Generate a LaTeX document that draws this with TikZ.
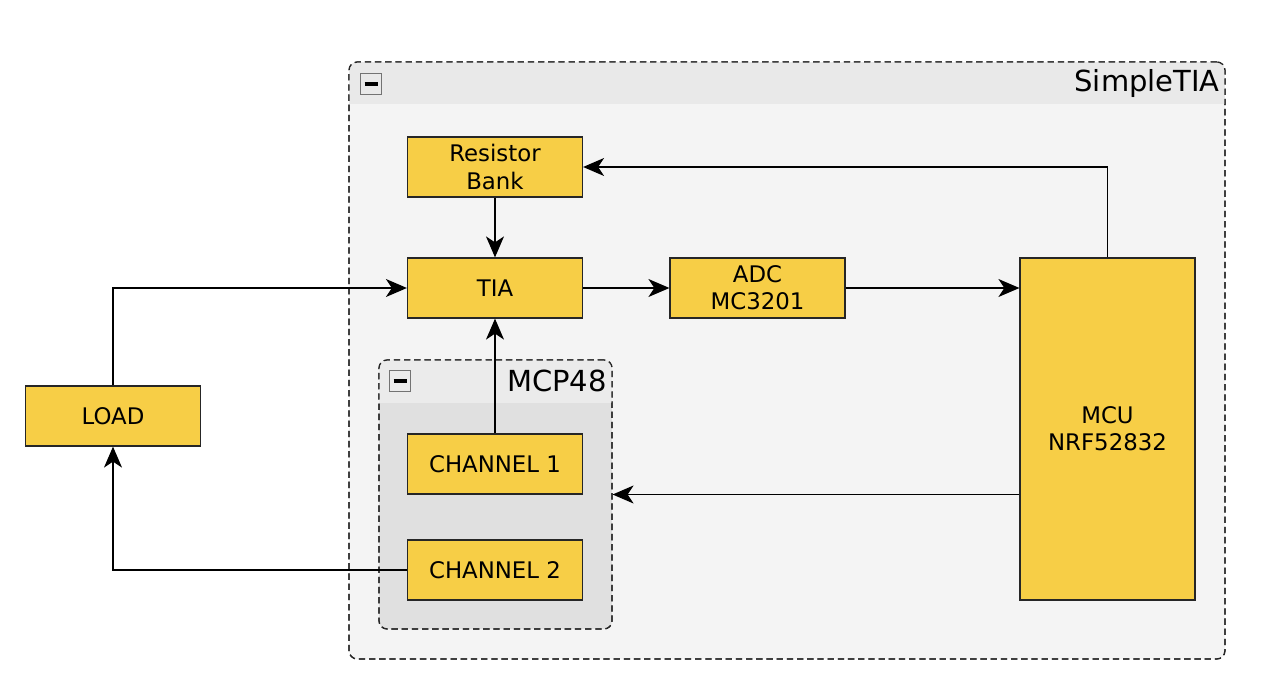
\documentclass[tikz,border=0pt]{standalone}
\usepackage{fontspec}
\setmainfont{DejaVu Sans}
\usepackage{tikz}
\usetikzlibrary{positioning, arrows.meta, shapes.geometric}
\definecolor{blockyellow}{HTML}{F7CE46}
\definecolor{outerbody}{HTML}{F4F4F4}
\definecolor{outerhead}{HTML}{E9E9E9}
\definecolor{innerbody}{HTML}{E0E0E0}
\definecolor{innerhead}{HTML}{EBEBEB}

\begin{document}
\begin{tikzpicture}[x=0.02cm, y=-0.02cm, font=\fontsize{13}{15.5}\selectfont]
    \tikzstyle{yellowblock} = [rectangle, draw=black!85, line width=0.7pt, fill=blockyellow, minimum width=3.5cm, minimum height=1.2cm, align=center, inner sep=0pt]
    \tikzstyle{groupbox} = [rectangle, draw=black!85, dash pattern=on 3.6pt off 2.2pt, line width=0.7pt, rounded corners=0.16cm, inner sep=0pt]
    \tikzstyle{minusbox} = [rectangle, draw=black!55, line width=1pt, minimum size=0.42cm, inner sep=0pt]
    \tikzstyle{grouptitle} = [anchor=east, inner sep=0pt, font=\fontsize{16.5}{20}\selectfont]
    \tikzstyle{arrow} = [line width=0.7pt, -{Stealth[length=0.42cm, width=0.36cm, inset=0.12cm]}]

    \useasboundingbox (0,0) rectangle (1270,692);
    \fill[white] (0,0) rectangle (1270,692);

    % SimpleTIA group
    \node [groupbox, fill=outerbody, minimum width=17.52cm, minimum height=11.94cm] (simpletia) at (787,360.5) {};
    \begin{scope}
        \clip [rounded corners=0.16cm] (349,62) rectangle (1225,659);
        \fill [outerhead] (349,62) rectangle (1225,104);
    \end{scope}
    \node [groupbox, minimum width=17.52cm, minimum height=11.94cm] at (simpletia) {};
    \node [minusbox] (tiaminus) at (371,84) {};
    \draw [line width=2.2pt] ([xshift=-0.13cm]tiaminus.center) -- ([xshift=0.13cm]tiaminus.center);
    \node [grouptitle] at (1220,84) {SimpleTIA};

    % MCP48 group
    \node [groupbox, fill=innerbody, minimum width=4.66cm, minimum height=5.38cm] (mcp) at (495.5,494.5) {};
    \begin{scope}
        \clip [rounded corners=0.16cm] (379,360) rectangle (612,629);
        \fill [innerhead] (379,360) rectangle (612,403);
    \end{scope}
    \node [groupbox, minimum width=4.66cm, minimum height=5.38cm] at (mcp) {};
    \node [minusbox] (mcpminus) at (400,381) {};
    \draw [line width=2.2pt] ([xshift=-0.13cm]mcpminus.center) -- ([xshift=0.13cm]mcpminus.center);
    \node [grouptitle] at (607,381) {MCP48};

    % blocks
    \node [yellowblock] (bank) at (495,167) {Resistor\\Bank};
    \node [yellowblock] (tia) at (495,288) {TIA};
    \node [yellowblock] (adc) at (757.5,288) {ADC\\MC3201};
    \node [yellowblock, minimum height=6.84cm] (mcu) at (1107.5,429) {MCU\\NRF52832};
    \node [yellowblock] (load) at (113,416) {LOAD};
    \node [yellowblock] (ch1) at (495,464) {CHANNEL 1};
    \node [yellowblock] (ch2) at (495,570) {CHANNEL 2};

    % connections
    \draw [arrow] (bank) -- (tia);
    \draw [arrow] (tia) -- (adc);
    \draw [arrow] (adc.east) -- (mcu.west |- adc.east);
    \draw [arrow] (mcu.north) |- (bank.east);
    \draw [arrow] (ch1) -- (tia);
    \draw [arrow] (mcu.west |- mcp.east) -- (mcp.east);
    \draw [arrow] (load.north) |- (tia.west);
    \draw [arrow] (ch2.west) -| (load.south);
\end{tikzpicture}
\end{document}
